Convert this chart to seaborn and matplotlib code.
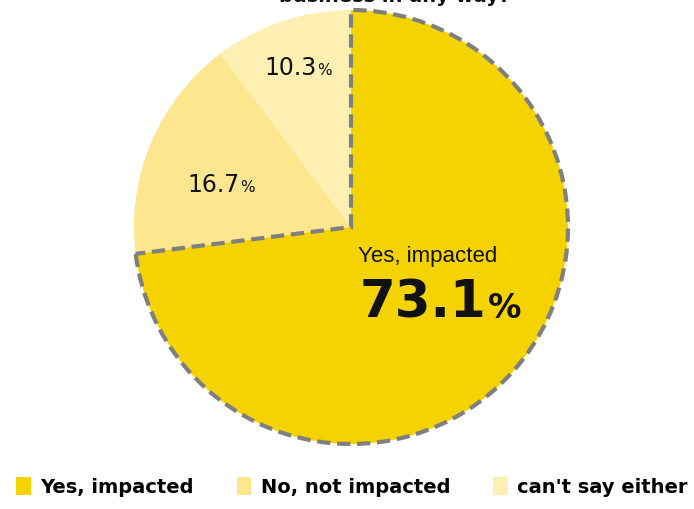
import matplotlib
matplotlib.use("Agg")
import matplotlib.pyplot as plt
import seaborn as sns
from matplotlib.patches import Patch

sns.set_theme(style="white")
plt.rcParams['font.family'] = ['DejaVu Sans']

categories = ["Yes, impacted", "No, not impacted", "can't say either"]
values = [73.1, 16.7, 10.3]
colors = ["#F5D300", "#FCE78E", "#FDF0B2"]
title = "business in any way?"

fig = plt.figure(figsize=(6.94, 5.09), dpi=100)
ax = fig.add_axes([0, 0, 1, 1])

cx, cy, r = 351, 509 - 227, 217
wedges, _ = ax.pie(values, colors=colors, startangle=90, counterclock=False,
                   center=(cx, cy), radius=r, frame=True,
                   wedgeprops=dict(linewidth=0))
ax.set_xlim(0, 694)
ax.set_ylim(0, 509)
ax.axis("off")
w = wedges[0]
w.set_edgecolor("#7f7f7f")
w.set_linewidth(3)
w.set_linestyle((0, (3.2, 1.6)))
w.set_zorder(3)

def pct_label(x, y, num, fs, pfs, weight="normal", family="DejaVu Sans"):
    t = ax.text(x, y, num, fontsize=fs, fontweight=weight, family=family,
                ha="left", va="baseline", color="#111111")
    fig.canvas.draw()
    bb = t.get_window_extent()
    ax.text(bb.x1 + 1, y, "%", fontsize=pfs, fontweight=weight, family=family,
            ha="left", va="baseline", color="#111111")

pct_label(264, 509 - 75, f"{values[2]}", 17, 11)
pct_label(187, 509 - 192, f"{values[1]}", 17, 11)
ax.text(358, 509 - 262, categories[0], fontsize=16, family="Liberation Sans",
        ha="left", va="baseline", color="#111111")
pct_label(360, 509 - 318, f"{values[0]}", 37, 24, weight="bold")

ax.text(395, 509 - 2, title, fontsize=14, fontweight="bold", ha="center",
        va="baseline", color="#111111", clip_on=False)

handles = [Patch(facecolor=c, edgecolor="none") for c in colors]
leg = ax.legend(handles, categories, loc="center", bbox_to_anchor=(352, 509 - 487),
                bbox_transform=ax.transData, ncol=3, frameon=False,
                handlelength=0.75, handleheight=1.0, handletextpad=0.5,
                columnspacing=2.2, prop=dict(size=14, weight="bold"))
for t in leg.get_texts():
    t.set_color("#000000")

fig.savefig("out.png", dpi=100)
